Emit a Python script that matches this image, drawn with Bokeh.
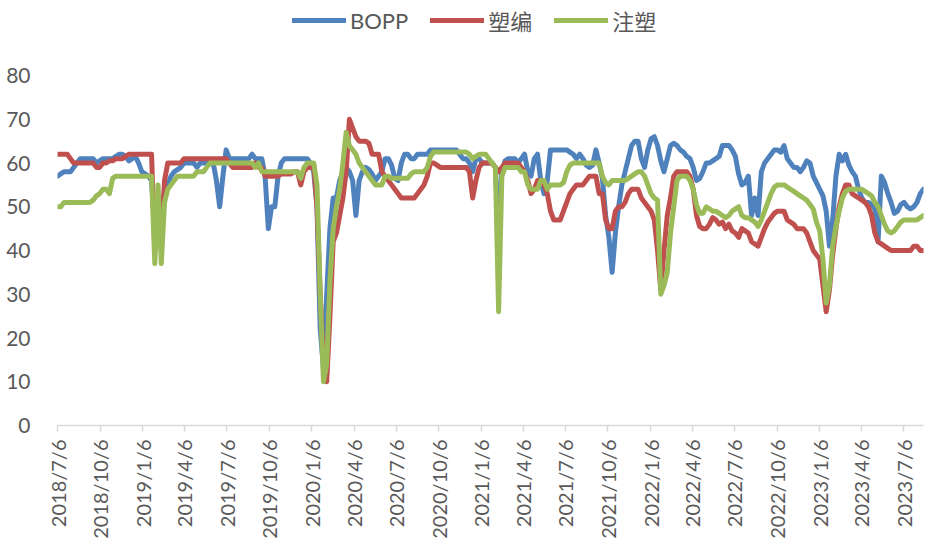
import pandas as pd
from bokeh.plotting import figure
from bokeh.models import FixedTicker, Legend, LegendItem, Range1d
from bokeh.embed import file_html
from bokeh.resources import INLINE

# ---------------- data ----------------
start_date = "2018-07-06"
n_weeks = 268
series_names = ["BOPP", "塑编", "注塑"]

tick_labels = ["2018/7/6", "2018/10/6", "2019/1/6", "2019/4/6", "2019/7/6", "2019/10/6",
               "2020/1/6", "2020/4/6", "2020/7/6", "2020/10/6", "2021/1/6", "2021/4/6",
               "2021/7/6", "2021/10/6", "2022/1/6", "2022/4/6", "2022/7/6", "2022/10/6",
               "2023/1/6", "2023/4/6", "2023/7/6"]
y_ticks = [0, 10, 20, 30, 40, 50, 60, 70, 80]

bopp = [
    57, 57.5, 58, 58, 58, 59, 60, 61, 61, 61,
    61, 61, 60, 60.5, 61, 61, 61, 61, 61.5, 62,
    62, 61.5, 60.5, 61, 61.5, 60, 58, 57.5, 57, 56,
    45, 42, 45, 54, 55, 57, 58, 58.5, 59, 60,
    60, 60, 60, 59, 60, 60, 60, 60, 60, 56,
    50, 57, 63, 61, 61, 61, 61, 61, 61, 61,
    62, 61, 61, 61, 57, 45, 50, 50, 57, 60,
    61, 61, 61, 61, 61, 61, 61, 61, 60, 58,
    50, 22, 13, 30, 45, 52, 52, 56, 58, 59,
    58, 56, 48, 56, 58, 59, 58.5, 57.5, 56, 57,
    58, 61, 61, 59.5, 56.5, 56, 60, 62, 62, 61,
    61, 62, 62, 62, 62, 63, 63, 63, 63, 63,
    63, 63, 63, 63, 62, 61, 61, 60, 58, 61,
    61, 60, 60, 60, 60, 59, 44, 58, 60.5, 61,
    61, 61, 60, 61, 62, 58, 57, 61, 62, 56,
    53, 56, 63, 63, 63, 63, 63, 63, 62.5, 62,
    61, 62, 61, 59.5, 59, 59.5, 63, 60, 56.5, 48,
    43, 35, 44, 50, 55, 58, 61, 64, 65, 65,
    61, 59, 63, 65.5, 66, 64, 60.5, 58, 61, 64,
    64.5, 64, 63, 62.5, 61.5, 61, 59, 56, 56.5, 58,
    60, 60, 60.5, 61, 61.5, 64, 64, 64, 63, 61.5,
    57.5, 55, 55.5, 57, 48, 52, 48, 58, 60, 61,
    62, 63, 63, 62.5, 64, 61, 60, 59, 59, 58,
    59, 60.5, 60, 57, 55.5, 54, 52.5, 49, 41, 47,
    57, 62, 60.5, 62, 59.5, 58, 57, 54, 52, 51,
    51, 50.5, 49.5, 42, 57, 55.5, 53, 51, 48.5, 49,
    50.5, 51, 50, 49.5, 50, 51, 53, 54,
]

suobian = [
    62, 62, 62, 62, 61, 60, 60, 60, 60, 60,
    60, 60, 59, 59, 60, 60, 60.5, 60.5, 61, 61,
    61, 61.5, 62, 62, 62, 62, 62, 62, 62, 62,
    40, 52, 42, 56, 60, 60, 60, 60, 60, 61,
    61, 61, 61, 61, 61, 61, 61, 61, 61, 61,
    61, 61, 61, 60, 59, 59, 59, 59, 59, 59,
    59, 60, 59, 59, 57, 57, 57, 57, 57, 57.5,
    57.5, 57.5, 57.5, 58, 58, 55, 58, 59, 59, 59.5,
    50, 30, 15, 10, 25, 42, 44, 48, 52, 58,
    70, 68, 66, 65, 65, 65, 64.5, 62, 62, 62,
    58, 57, 56, 55, 54, 53, 52, 52, 52, 52,
    52, 53, 54, 55, 57, 60, 60, 59.5, 59, 59,
    59, 59, 59, 59, 59, 59, 59, 58, 52, 56,
    59, 60, 60, 60, 60, 59, 58, 59, 60, 60,
    60, 60, 60, 59, 58, 56, 53, 54, 56, 56,
    55, 53, 49, 47, 47, 47, 49, 51, 53, 54,
    55, 55, 55, 56, 57, 57, 57, 53, 53, 47,
    45, 45, 49, 50, 50, 51, 53, 54, 54, 54,
    52, 51, 50, 49, 47, 40, 31, 40, 48, 52,
    57, 58, 58, 58, 58, 57, 54, 48, 45.5, 45,
    45, 46, 47.5, 47, 46, 46.5, 45, 46, 44.5, 44,
    43, 45, 44.5, 44, 42, 41.5, 41, 43, 45, 46.5,
    47.5, 48.5, 49, 49, 49, 47, 46.5, 46, 45, 45,
    45, 44, 42, 40, 39, 38, 32, 26, 31, 39,
    45, 50, 53, 55, 55, 53, 52.5, 52, 51.5, 51,
    50, 48, 44, 42, 41.5, 41, 40.5, 40, 40, 40,
    40, 40, 40, 40, 41, 41, 40, 40,
]

zhusu = [
    50, 50, 51, 51, 51, 51, 51, 51, 51, 51,
    51, 51.5, 52.5, 53, 54, 54, 53, 56.5, 57, 57,
    57, 57, 57, 57, 57, 57, 57, 57, 57, 57,
    37, 55, 37, 51, 54, 55, 56, 57, 57, 57,
    57, 57, 57, 58, 58, 58, 59, 60, 60, 60,
    60, 60, 60, 60, 60, 60, 60, 60, 60, 60,
    60, 59, 60, 58, 58, 58, 58, 58, 58, 58,
    58, 58, 58, 58, 58, 56.5, 59, 60, 60, 60,
    55, 30, 10, 14, 33, 45, 50, 54, 60, 67,
    64, 63, 62, 60, 59, 58, 57, 56, 55, 55,
    55, 57, 57, 56.5, 56.5, 56.5, 56.5, 56.5, 56.5, 57.5,
    58, 58, 58, 58, 59, 61.5, 62.5, 62.5, 62.5, 62.5,
    62.5, 62.5, 62.5, 62.5, 62.5, 62.5, 62.5, 62, 61, 61.5,
    62, 62, 62, 61, 60, 59, 26, 57, 59, 59,
    59, 59, 59, 58, 58, 55, 54, 54, 54, 56,
    56, 54, 55, 55, 55, 55, 55.5, 58, 59.5, 60,
    60, 60, 60, 60, 60, 60, 60, 60, 57, 55.5,
    55, 56, 56, 56, 56, 56, 56.5, 57, 57.5, 58,
    58, 57, 55, 53, 52, 51.5, 30, 32, 35, 44,
    50, 56, 57, 57, 57, 56, 54, 50.5, 48.5, 48.5,
    50, 49.5, 49, 49, 48.5, 48, 47.5, 48, 49, 49.5,
    50, 48, 47.5, 47.5, 47, 46.5, 45.5, 47, 49, 51,
    53, 54.5, 55, 55, 55, 54.5, 54, 53.5, 53, 52.5,
    52, 51.5, 50.5, 49.5, 46.5, 44.5, 38, 28, 32, 41,
    45.5, 49, 52, 53.5, 54, 54, 54, 54, 54, 53.5,
    53, 52.5, 51, 50, 48, 46, 44.5, 44, 44.5, 45.5,
    46.5, 47, 47, 47, 47, 47, 47.5, 48,
]

colors = ["#4F81BD", "#C0504D", "#9BBB59"]

# ---------------- positions via date scale ----------------
t0 = pd.Timestamp(start_date)
dates = pd.date_range(start_date, periods=n_weeks, freq="7D")
xs = [(d - t0).days for d in dates]
tick_pos = [(pd.to_datetime(t, format="%Y/%m/%d") - t0).days for t in tick_labels]

FONT = "Lato, 'Noto Sans CJK SC'"
TXT = "#595959"

# frame spans from the page top to the x axis; the y scale keeps 80 at the
# reference height and leaves room for the legend above the data
FRAME_H = 425
Y_TOP = 80 * FRAME_H / 350.0

p = figure(frame_width=866, frame_height=FRAME_H,
           min_border_left=57, min_border_right=7, min_border_top=0, min_border_bottom=120,
           x_range=Range1d(0, xs[-1]), y_range=Range1d(0, Y_TOP),
           output_backend="svg", toolbar_location=None)
p.outline_line_color = None
p.xgrid.visible = False
p.ygrid.visible = False
p.background_fill_color = "white"

renderers = []
for ys, c in zip([bopp, suobian, zhusu], colors):
    r = p.line(xs, ys, line_color=c, line_width=5, line_join="round", line_cap="round")
    renderers.append(r)

# y axis
p.yaxis.ticker = FixedTicker(ticks=y_ticks)
p.yaxis.axis_line_color = None
p.yaxis.major_tick_line_color = None
p.yaxis.minor_tick_line_color = None
p.yaxis.major_label_standoff = 21
p.yaxis.major_label_text_font = FONT
p.yaxis.major_label_text_font_size = "21px"
p.yaxis.major_label_text_color = TXT

# x axis
p.xaxis.ticker = FixedTicker(ticks=tick_pos)
p.xaxis.major_label_overrides = {pos: lbl for pos, lbl in zip(tick_pos, tick_labels)}
p.xaxis.major_label_orientation = 3.14159265 / 2
p.xaxis.axis_line_color = "#D9D9D9"
p.xaxis.axis_line_width = 1.5
p.xaxis.major_tick_line_color = "#D9D9D9"
p.xaxis.major_tick_line_width = 1.5
p.xaxis.major_tick_in = 0
p.xaxis.major_tick_out = 6
p.xaxis.minor_tick_line_color = None
p.xaxis.major_label_standoff = 8
p.xaxis.major_label_text_font = FONT
p.xaxis.major_label_text_font_size = "20px"
p.xaxis.major_label_text_color = TXT

legend = Legend(
    items=[LegendItem(label=n, renderers=[r]) for n, r in zip(series_names, renderers)],
    orientation="horizontal", location=(235, 389),
    glyph_width=54, glyph_height=24, label_height=24, label_standoff=4,
    spacing=22, padding=0, margin=0,
    border_line_color=None, background_fill_alpha=0,
    label_text_font=FONT, label_text_font_size="22px", label_text_color=TXT,
)
p.add_layout(legend)

open("out.html", "w").write(file_html(p, INLINE))
